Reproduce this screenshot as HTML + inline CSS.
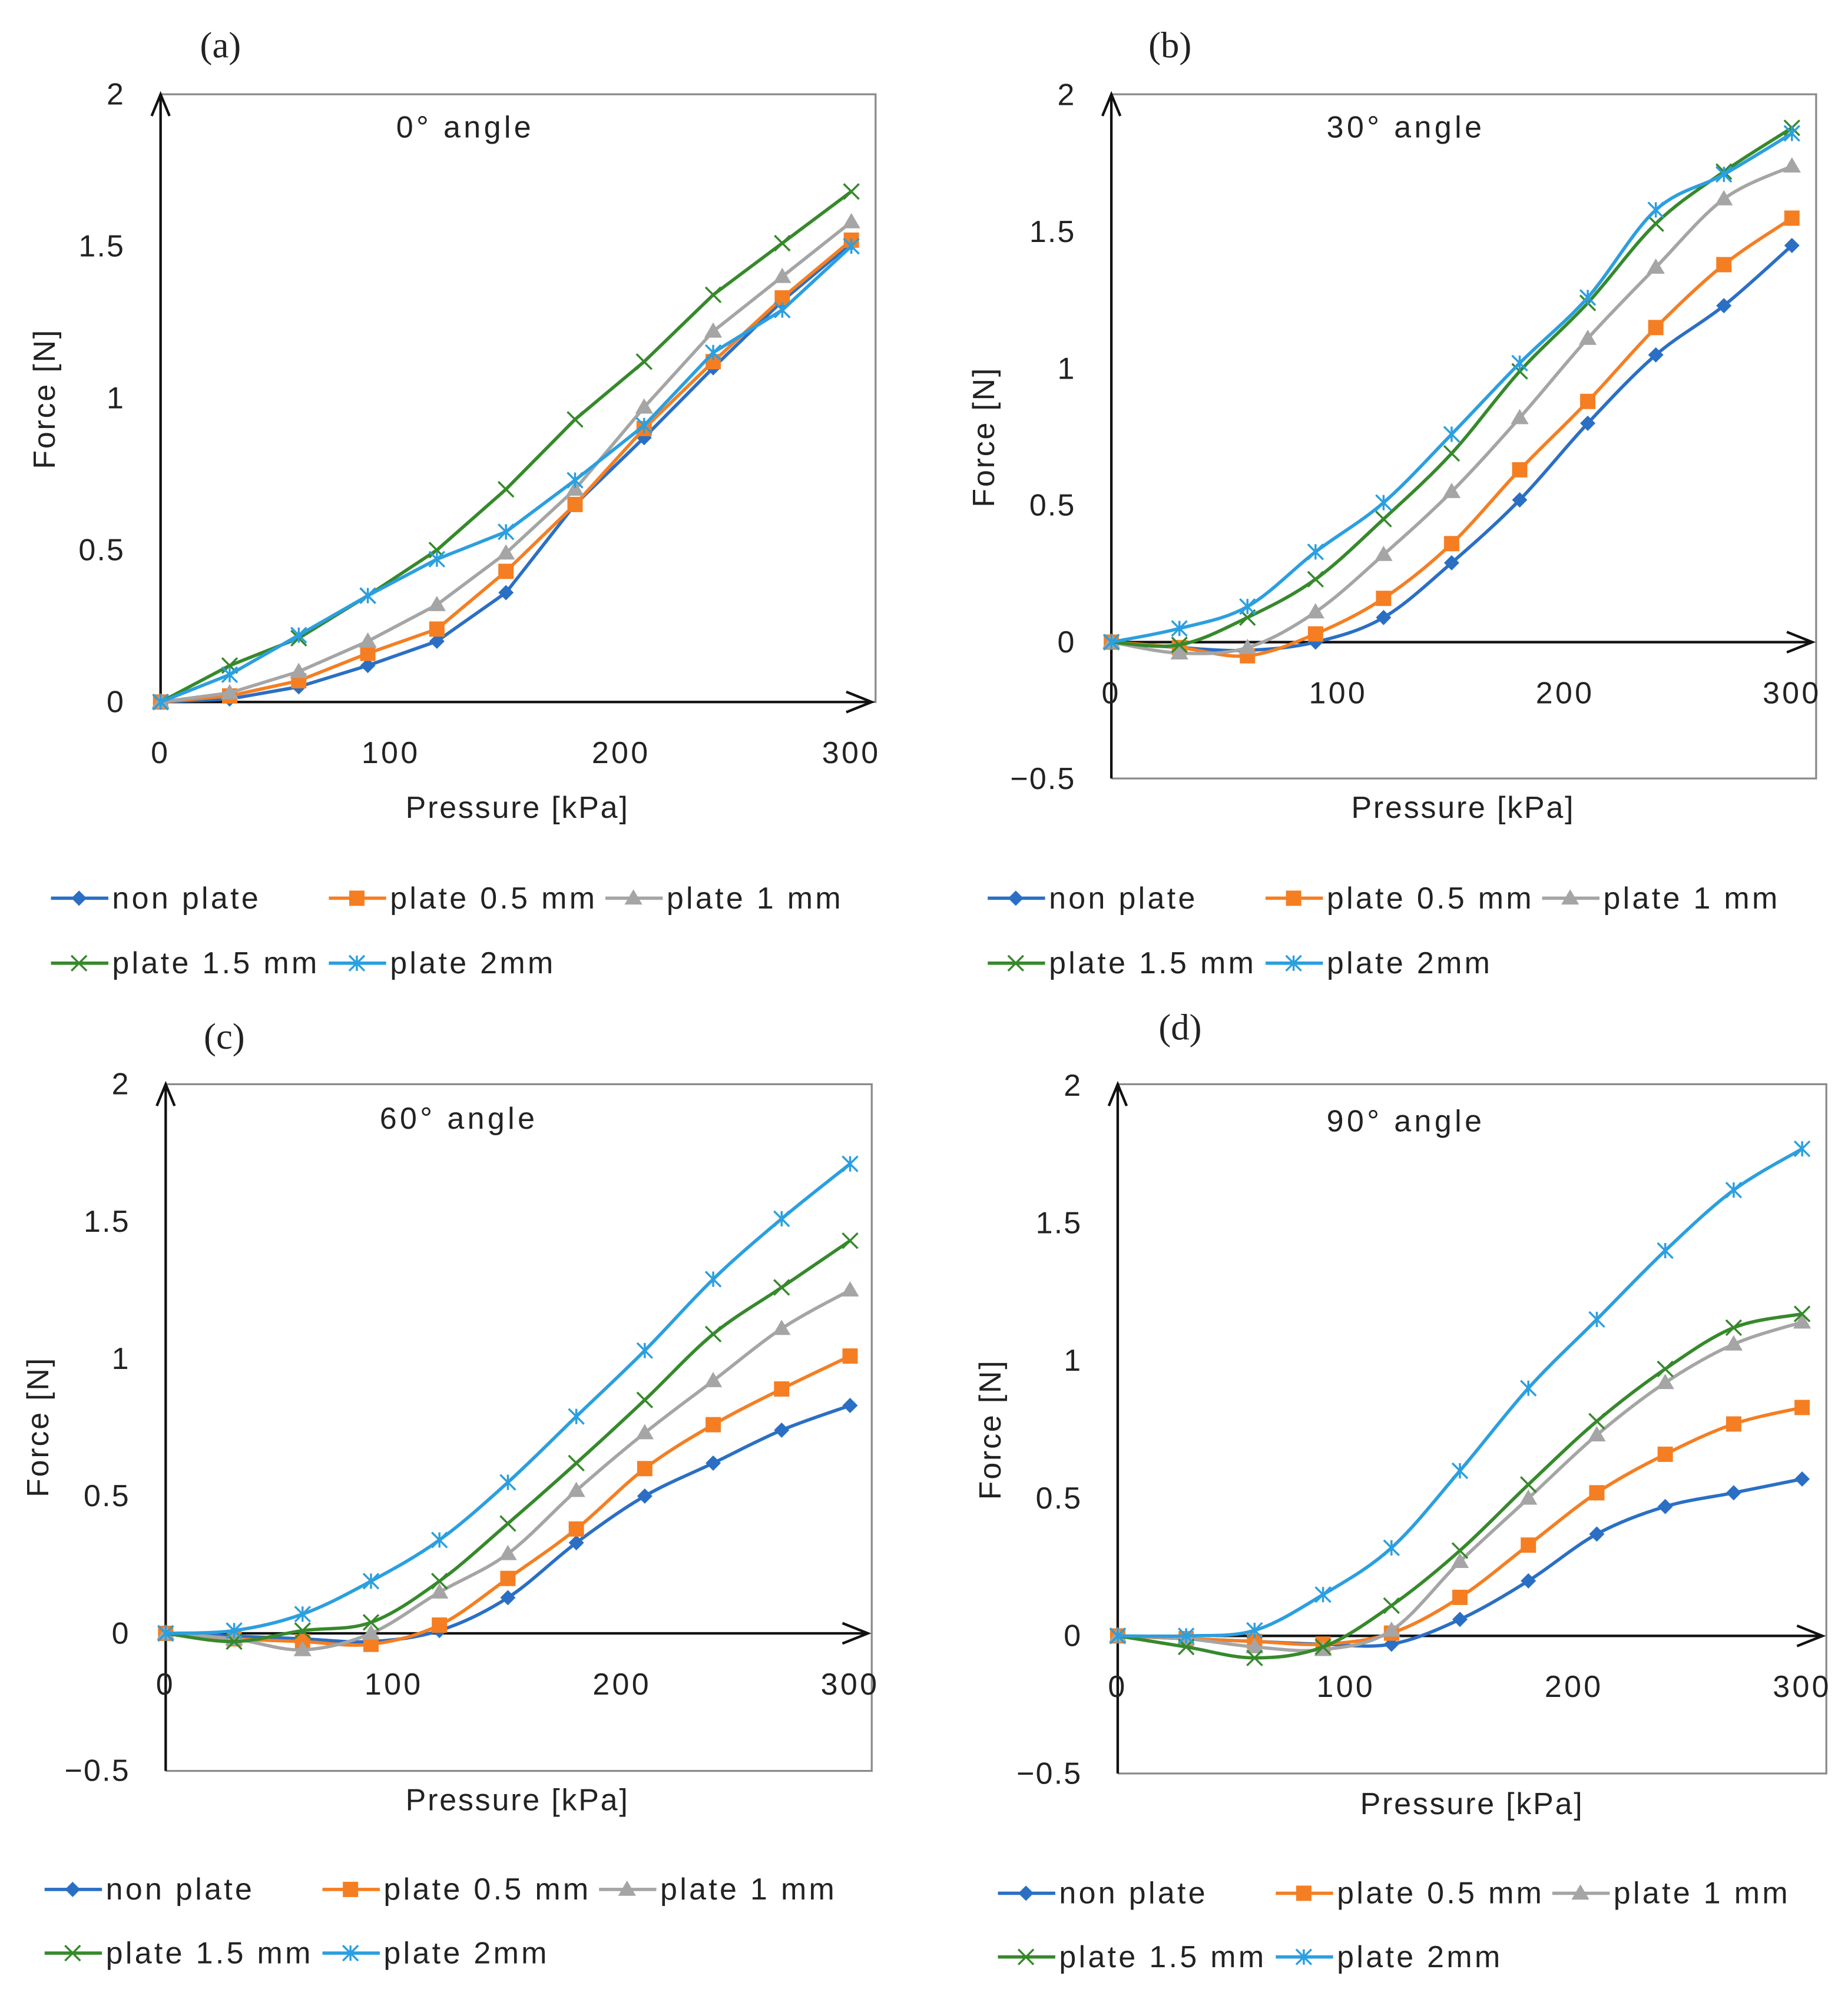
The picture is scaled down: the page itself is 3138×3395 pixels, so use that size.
<!DOCTYPE html>
<html><head><meta charset="utf-8"><style>
html,body{margin:0;padding:0;background:#fff}
svg{display:block}
text{font-family:"Liberation Sans","DejaVu Sans",sans-serif;fill:#222}
</style></head><body>
<svg id="fig" width="3138" height="3395" viewBox="0 0 1450 1569" preserveAspectRatio="none" xmlns="http://www.w3.org/2000/svg"></svg>
<script>
// ---- data ----
const pressures = [0,30,60,90,120,150,180,210,240,270,300];
const seriesNames = ["non plate","plate 0.5 mm","plate 1 mm","plate 1.5 mm","plate 2mm"];
const xTicks = [0,100,200,300];
const yTicksA = [0,0.5,1,1.5,2];
const yTicksB = [-0.5,0,0.5,1,1.5,2];
const yTickLabelsA = ["0","0.5","1","1.5","2"];
const yTickLabelsB = ["\u22120.5","0","0.5","1","1.5","2"];
// (a) 0 deg
const a_non = [0,0.01,0.05,0.12,0.2,0.36,0.65,0.87,1.1,1.32,1.51];
const a_p05 = [0,0.02,0.07,0.16,0.24,0.43,0.65,0.9,1.12,1.33,1.52];
const a_p1  = [0,0.03,0.1,0.2,0.32,0.49,0.7,0.97,1.22,1.4,1.58];
const a_p15 = [0,0.12,0.21,0.35,0.5,0.7,0.93,1.12,1.34,1.51,1.68];
const a_p2  = [0,0.09,0.22,0.35,0.47,0.56,0.73,0.91,1.15,1.29,1.5];
// (b) 30 deg
const b_non = [0,-0.02,-0.03,0,0.09,0.29,0.52,0.8,1.05,1.23,1.45];
const b_p05 = [0,-0.02,-0.05,0.03,0.16,0.36,0.63,0.88,1.15,1.38,1.55];
const b_p1  = [0,-0.04,-0.02,0.11,0.32,0.55,0.82,1.11,1.37,1.62,1.74];
const b_p15 = [0,-0.01,0.09,0.23,0.45,0.69,0.99,1.24,1.53,1.72,1.88];
const b_p2  = [0,0.05,0.13,0.33,0.51,0.76,1.02,1.26,1.58,1.71,1.86];
// (c) 60 deg
const c_non = [0,-0.01,-0.02,-0.03,0.01,0.13,0.33,0.5,0.62,0.74,0.83];
const c_p05 = [0,-0.02,-0.03,-0.04,0.03,0.2,0.38,0.6,0.76,0.89,1.01];
const c_p1  = [0,-0.02,-0.06,0,0.15,0.29,0.52,0.73,0.92,1.11,1.25];
const c_p15 = [0,-0.03,0.01,0.04,0.19,0.4,0.62,0.85,1.09,1.26,1.43];
const c_p2  = [0,0.01,0.07,0.19,0.34,0.55,0.79,1.03,1.29,1.51,1.71];
// (d) 90 deg
const d_non = [0,-0.01,-0.02,-0.03,-0.03,0.06,0.2,0.37,0.47,0.52,0.57];
const d_p05 = [0,-0.01,-0.02,-0.03,0.01,0.14,0.33,0.52,0.66,0.77,0.83];
const d_p1  = [0,-0.01,-0.04,-0.05,0.02,0.27,0.5,0.73,0.92,1.06,1.14];
const d_p15 = [0,-0.04,-0.08,-0.04,0.11,0.31,0.55,0.78,0.97,1.12,1.17];
const d_p2  = [0,0,0.02,0.15,0.32,0.6,0.9,1.15,1.4,1.62,1.77];

const colors = ["#2a6fc4","#f57e22","#a5a5a5","#36892b","#2b9fdf"];
const markers = ["diamond","square","triangle","x","star"];
const NS = "http://www.w3.org/2000/svg";
const svg = document.getElementById("fig");
function el(tag, attrs, parent){const e=document.createElementNS(NS,tag);for(const k in attrs)e.setAttribute(k,attrs[k]);(parent||svg).appendChild(e);return e;}

const panels = [
 {id:"a",label:"(a)",title:"0\u00b0 angle",data:[a_non,a_p05,a_p1,a_p15,a_p2],smooth:false,L:126,R:687,T:74,x300:668,y0:551,unit:238.5,ymin:0,ticks:yTicksA,tl:yTickLabelsA,bottom:551,
  lab:[173,35],tit:[365,100],yt:[35,313],xt:[406,634],leg:[40,705,756]},
 {id:"b",label:"(b)",title:"30\u00b0 angle",data:[b_non,b_p05,b_p1,b_p15,b_p2],smooth:true,L:872,R:1425,T:74,x300:1406,y0:504,unit:214.7,ymin:-0.5,ticks:yTicksB,tl:yTickLabelsB,bottom:611,
  lab:[918,35],tit:[1103,100],yt:[772,343],xt:[1148,634],leg:[775,705,756]},
 {id:"c",label:"(c)",title:"60\u00b0 angle",data:[c_non,c_p05,c_p1,c_p15,c_p2],smooth:true,L:130,R:684,T:851,x300:667,y0:1282,unit:215.5,ymin:-0.5,ticks:yTicksB,tl:yTickLabelsB,bottom:1390,
  lab:[176,813],tit:[360,878],yt:[30,1120],xt:[406,1413],leg:[35,1483,1533]},
 {id:"d",label:"(d)",title:"90\u00b0 angle",data:[d_non,d_p05,d_p1,d_p15,d_p2],smooth:true,L:877,R:1433,T:851,x300:1414,y0:1284,unit:216,ymin:-0.5,ticks:yTicksB,tl:yTickLabelsB,bottom:1392,
  lab:[926,806],tit:[1103,880],yt:[777,1122],xt:[1155,1416],leg:[783,1486,1536]}
];

function marker(g,type,x,y,c,s){
  s=s||6;
  if(type==="diamond") return el("polygon",{points:`${x},${y-s} ${x+s},${y} ${x},${y+s} ${x-s},${y}`,fill:c},g);
  if(type==="square") return el("rect",{x:x-s,y:y-s,width:2*s,height:2*s,fill:c},g);
  if(type==="triangle") return el("polygon",{points:`${x},${y-s-1} ${x+s+1},${y+s-1} ${x-s-1},${y+s-1}`,fill:c},g);
  if(type==="x") return el("path",{d:`M${x-s},${y-s}L${x+s},${y+s}M${x-s},${y+s}L${x+s},${y-s}`,stroke:c,"stroke-width":1.6,fill:"none"},g);
  return el("path",{d:`M${x-s},${y-s}L${x+s},${y+s}M${x-s},${y+s}L${x+s},${y-s}M${x},${y-s}L${x},${y+s}`,stroke:c,"stroke-width":1.6,fill:"none"},g);
}
function pathD(pts,smooth){
  let d=`M${pts[0][0]},${pts[0][1]}`;
  if(!smooth){for(let i=1;i<pts.length;i++)d+=`L${pts[i][0]},${pts[i][1]}`;return d;}
  for(let i=0;i<pts.length-1;i++){
    const p0=pts[Math.max(0,i-1)],p1=pts[i],p2=pts[i+1],p3=pts[Math.min(pts.length-1,i+2)];
    const c1x=p1[0]+(p2[0]-p0[0])/6,c1y=p1[1]+(p2[1]-p0[1])/6;
    const c2x=p2[0]-(p3[0]-p1[0])/6,c2y=p2[1]-(p3[1]-p1[1])/6;
    d+=`C${c1x},${c1y} ${c2x},${c2y} ${p2[0]},${p2[1]}`;
  }
  return d;
}

panels.forEach(p=>{
  const g=el("g",{});
  
  
  const X=v=>p.L+(p.x300-p.L)*v/300;
  const Y=v=>p.y0-v*p.unit;
  const fr=el("path",{d:`M${p.L},${p.T}L${p.R},${p.T}L${p.R},${p.bottom}L${p.L},${p.bottom}`,fill:"none",stroke:"#8a8a8a","stroke-width":1.5},g);
  
  
  const ya=el("path",{d:`M${p.L},${p.bottom}L${p.L},${p.T}M${p.L-7},${p.T+17}L${p.L},${p.T}L${p.L+7},${p.T+17}`,fill:"none",stroke:"#111","stroke-width":2},g);
  
  
  const xe=p.R-3;
  const xa=el("path",{d:`M${p.L},${p.y0}L${xe},${p.y0}M${xe-20},${p.y0-8}L${xe},${p.y0}L${xe-20},${p.y0+8}`,fill:"none",stroke:"#111","stroke-width":2},g);
  
  
  p.ticks.forEach((v,i)=>{
    const t=el("text",{x:p.L-28,y:Y(v)+8,"text-anchor":"end","font-size":24,"letter-spacing":1},g);t.textContent=p.tl[i];
    
    
  });
  xTicks.forEach(v=>{
    const t=el("text",{x:X(v),y:p.y0+48,"text-anchor":"middle","font-size":24,"letter-spacing":2},g);t.textContent=String(v);
    
    
  });
  let t=el("text",{x:p.lab[0],y:p.lab[1]+10,"text-anchor":"middle","font-size":29,style:"font-family:'Liberation Serif',serif"},g);t.textContent=p.label;
  
  
  t=el("text",{x:p.tit[0],y:p.tit[1]+8,"text-anchor":"middle","font-size":24,"letter-spacing":2.5},g);t.textContent=p.title;
  
  
  t=el("text",{x:p.yt[0],y:p.yt[1],"text-anchor":"middle","font-size":24,"letter-spacing":1.3,transform:`rotate(-90 ${p.yt[0]} ${p.yt[1]})`,dy:8},g);t.textContent="Force [N]";
  
  
  t=el("text",{x:p.xt[0],y:p.xt[1]+8,"text-anchor":"middle","font-size":24,"letter-spacing":1.3},g);t.textContent="Pressure [kPa]";
  
  
  p.data.forEach((vals,si)=>{
    const sg=el("g",{},g);
    
    
    const pts=pressures.map((x,i)=>[X(x),Y(vals[i])]);
    el("path",{d:pathD(pts,p.smooth),fill:"none",stroke:colors[si],"stroke-width":2.6},sg);
    pts.forEach(pt=>{
      const m=marker(sg,markers[si],pt[0],pt[1],colors[si]);
      
      
    });
  });
  const lx=p.leg[0], offs=[0,218,435];
  const slots=[[0,p.leg[1]],[1,p.leg[1]],[2,p.leg[1]],[0,p.leg[2]],[1,p.leg[2]]];
  slots.forEach((s,si)=>{
    const lg=el("g",{},g);
    
    
    const x0=lx+offs[s[0]], y=s[1];
    el("line",{x1:x0,y1:y,x2:x0+45,y2:y,stroke:colors[si],"stroke-width":2.6},lg);
    marker(lg,markers[si],x0+22,y,colors[si]);
    const tt=el("text",{x:x0+48,y:y+8,"font-size":24,"letter-spacing":2},lg);tt.textContent=seriesNames[si];
  });
});
</script>
</body></html>
